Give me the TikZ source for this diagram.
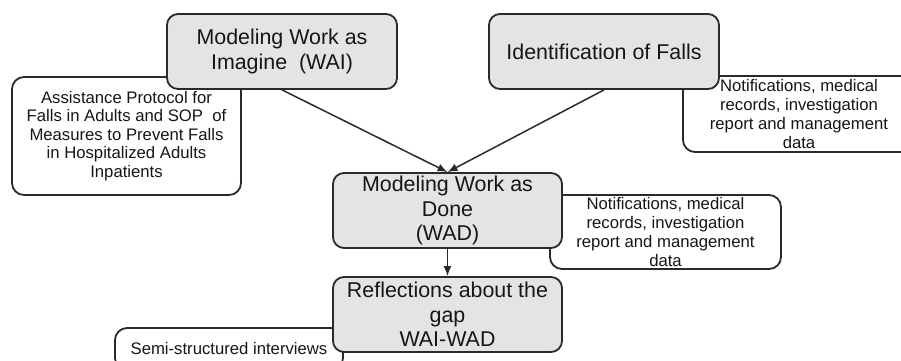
\documentclass[tikz,border=0pt]{standalone}
\usepackage{fontspec}
\setmainfont{Liberation Sans}
\usetikzlibrary{arrows.meta}
\definecolor{boxfill}{HTML}{E4E4E4}
\definecolor{edge}{HTML}{2A2A2A}
\definecolor{ink}{HTML}{161616}
\begin{document}
\begin{tikzpicture}[x=1pt,y=-1pt,
  stagebox/.style={draw=edge, line width=1.8pt, fill=boxfill, rounded corners=11pt,
    align=center, text=ink, inner sep=0pt,
    font=\fontsize{21.4}{24.5}\selectfont},
  sourcebox/.style={draw=edge, line width=1.8pt, fill=white, rounded corners=12pt,
    align=center, text=ink, inner sep=0pt,
    font=\fontsize{16.7}{19}\selectfont},
  flow/.style={draw=edge, line width=1.5pt, -{Latex[length=10pt,width=8pt]}}]
\useasboundingbox (0,0) rectangle (901,360);
\clip (0,0) rectangle (901,360);

% source documents (drawn first, the stages sit on top of them)
\node[sourcebox, minimum width=229pt, minimum height=118pt,
      font=\fontsize{16.7}{18.6}\selectfont] (protocol) at (126.5,136)
  {Assistance Protocol for\\Falls in Adults and SOP\ \ of\\Measures to Prevent Falls\\in Hospitalized Adults\\Inpatients};
\node[sourcebox, minimum width=232pt, minimum height=76pt] (records1) at (799,114)
  {Notifications, medical\\records, investigation\\report and management\\data};
\node[sourcebox, minimum width=231pt, minimum height=74pt] (records2) at (665.5,232)
  {Notifications, medical\\records, investigation\\report and management\\data};
\node[sourcebox, minimum width=228pt, minimum height=42pt] (interviews) at (229,349)
  {Semi-structured interviews};

% stages of the analysis
\node[stagebox, minimum width=230pt, minimum height=75pt] (wai) at (282,51.5)
  {Modeling Work as\\Imagine\ \ (WAI)};
\node[stagebox, minimum width=230pt, minimum height=75pt] (ident) at (604,51.5)
  {Identification of Falls};
\node[stagebox, minimum width=229pt, minimum height=75pt] (wad) at (447.5,210.5)
  {Modeling Work as\\Done\\(WAD)};
\node[stagebox, minimum width=229pt, minimum height=75pt] (gap) at (447.5,314.5)
  {Reflections about the\\gap\\WAI-WAD};

% connectors
\draw[flow] (wai.south) -- (wad.north);
\draw[flow] (ident.south) -- (wad.north);
\draw[flow] (wad.south) -- (gap.north);
\end{tikzpicture}
\end{document}
